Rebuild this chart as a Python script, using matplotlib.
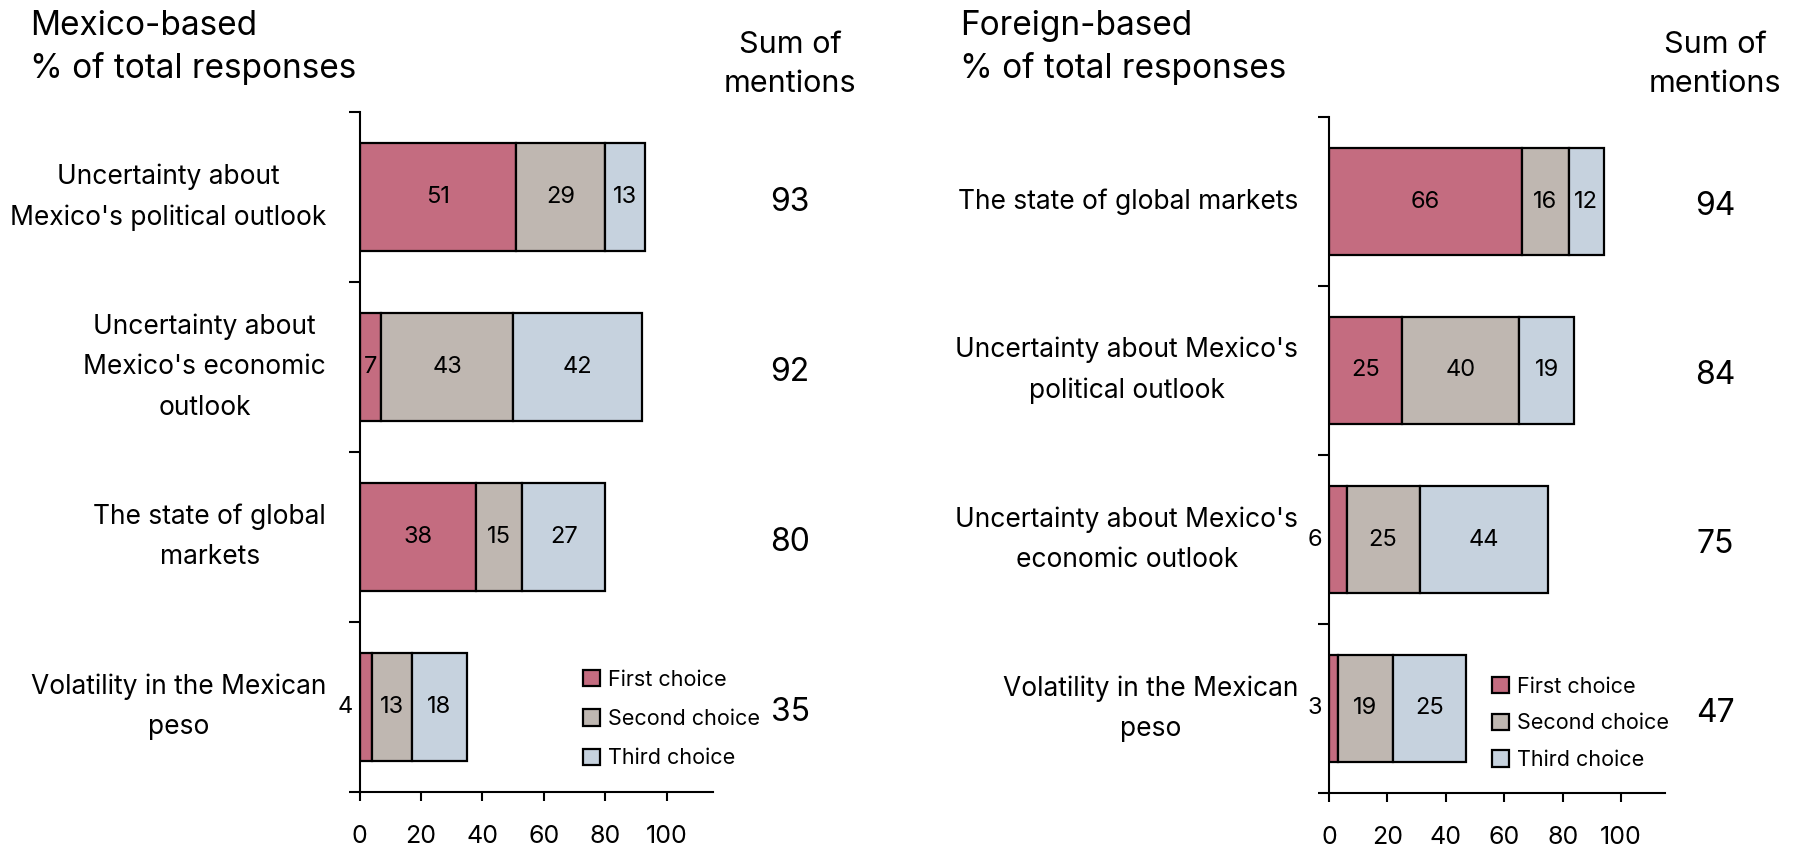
import numpy as np
import matplotlib.pyplot as plt
from matplotlib.patches import Patch
import matplotlib.transforms as mtransforms

plt.rcParams['font.family'] = ['Inter', 'DejaVu Sans']

# Mexico-based respondents
mx_labels = ["Uncertainty about\nMexico's political outlook",
             "Uncertainty about\nMexico's economic\noutlook",
             "The state of global\nmarkets",
             "Volatility in the Mexican\npeso"]
mx_first = [51, 7, 38, 4]
mx_second = [29, 43, 15, 13]
mx_third = [13, 42, 27, 18]
mx_sum = [93, 92, 80, 35]

# Foreign-based respondents
fr_labels = ["The state of global markets",
             "Uncertainty about Mexico's\npolitical outlook",
             "Uncertainty about Mexico's\neconomic outlook",
             "Volatility in the Mexican\npeso"]
fr_first = [66, 25, 6, 3]
fr_second = [16, 40, 25, 19]
fr_third = [12, 19, 44, 25]
fr_sum = [94, 84, 75, 47]

series_names = ["First choice", "Second choice", "Third choice"]
colors = ["#C46C80", "#BFB7B1", "#C6D2DE"]
xticks = [0, 20, 40, 60, 80, 100]

W, H = 1796, 848
fig = plt.figure(figsize=(W / 100, H / 100), dpi=100)


def panel(rect, title, title_x, labels, first, second, third, sums, sum_x,
          leg_xy, leg_spacing, label_pad):
    ax = fig.add_axes(rect)
    n = len(labels)
    y = np.arange(n)
    left = np.zeros(n)
    for vals, c in zip([first, second, third], colors):
        vals = np.array(vals)
        bars = ax.barh(y, vals, left=left, height=0.635, color=c,
                       edgecolor='black', linewidth=1.6)
        for b, v in zip(bars, vals):
            cy = b.get_y() + b.get_height() / 2
            if v < 7:
                # too thin for a label inside, put it left of the axis
                ax.annotate(str(v), (0, cy), xytext=(-5, 0), textcoords='offset points',
                            ha='right', va='center', fontsize=17)
            else:
                ax.text(b.get_x() + b.get_width() / 2, cy, str(v),
                        ha='center', va='center', fontsize=17)
        left = left + vals

    ax.set_xlim(0, 115)
    ax.set_ylim(n - 0.5, -0.5)
    ax.set_xticks(xticks)
    ax.set_xticklabels([str(t) for t in xticks], fontsize=18)
    ax.set_yticks(np.arange(n + 1) - 0.5)
    ax.set_yticklabels([])
    ax.set_yticks(y, minor=True)
    ax.set_yticklabels(labels, minor=True, fontsize=19)
    for t in ax.get_yticklabels(minor=True):
        t.set_multialignment('center')
        t.set_linespacing(1.72)
        t.set_verticalalignment('center')
    ax.tick_params(axis='y', which='major', length=8, width=1.5)
    ax.tick_params(axis='y', which='minor', length=0, pad=label_pad + 8)
    ax.tick_params(axis='x', length=6.5, width=1.5, pad=17)
    for s in ['top', 'right']:
        ax.spines[s].set_visible(False)
    for s in ['left', 'bottom']:
        ax.spines[s].set_linewidth(1.5)

    trans = mtransforms.blended_transform_factory(ax.transAxes, ax.transData)
    for yi, s in zip(y, sums):
        ax.text(sum_x, yi + 0.03, str(s), transform=trans, ha='center', va='center',
                fontsize=23)
    head_trans = mtransforms.blended_transform_factory(ax.transAxes, fig.transFigure)
    ax.text(sum_x, 0.884, "Sum of\nmentions", transform=head_trans, ha='center',
            va='bottom', fontsize=22, linespacing=1.53)

    fig.text(title_x / W, 1 - 10 / H, title, ha='left', va='top', fontsize=24,
             linespacing=1.4)

    handles = [Patch(facecolor=c, edgecolor='black', linewidth=1.6) for c in colors]
    ax.legend(handles, series_names, loc='upper left', bbox_to_anchor=leg_xy,
              frameon=False, fontsize=15.5, handlelength=0.8, handleheight=0.8,
              handletextpad=0.35, labelspacing=leg_spacing, borderpad=0, borderaxespad=0)
    return ax


panel([359.5 / W, 56 / H, 353.5 / W, 680 / H], "Mexico-based\n% of total responses", 30,
      mx_labels, mx_first, mx_second, mx_third, mx_sum, 1.218, (0.632, 0.18), 0.9, 16)
panel([1329 / W, 55 / H, 336 / W, 676 / H], "Foreign-based\n% of total responses", 960,
      fr_labels, fr_first, fr_second, fr_third, fr_sum, 1.149, (0.485, 0.172), 0.77, 14)

fig.savefig("out.png", dpi=100)
